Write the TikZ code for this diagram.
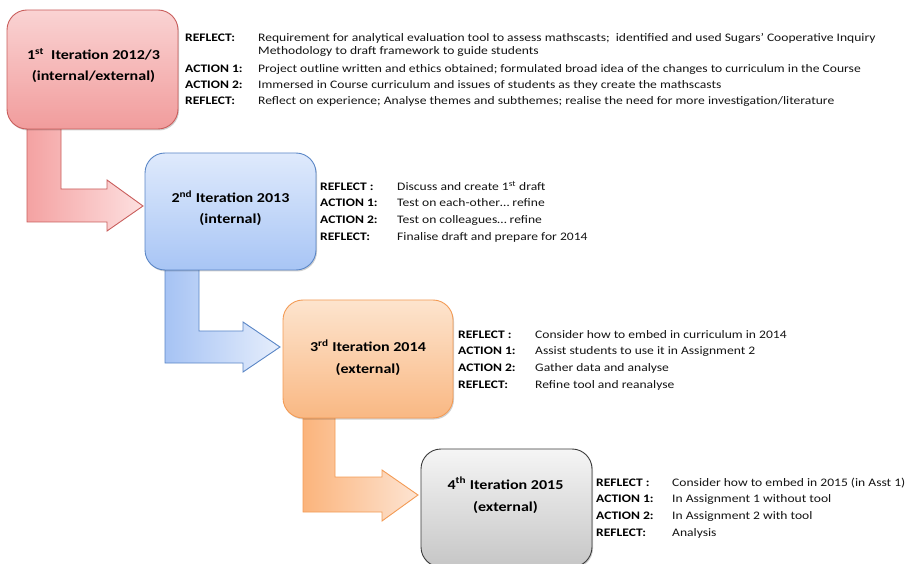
\documentclass[tikz,border=0pt]{standalone}
\usepackage{fontspec}
\setmainfont{Carlito}[FakeStretch=1.18]
\usetikzlibrary{shadows}
\definecolor{rtop}{HTML}{FAD3D3}
\definecolor{rbot}{HTML}{F19C9C}
\definecolor{rbrd}{HTML}{C95E5C}
\definecolor{rarL}{HTML}{F4A2A2}
\definecolor{rarR}{HTML}{FDE0E0}
\definecolor{btop}{HTML}{DFEAFC}
\definecolor{bbot}{HTML}{A8C5F5}
\definecolor{bbrd}{HTML}{5A86C6}
\definecolor{barL}{HTML}{A6C3F4}
\definecolor{barR}{HTML}{E6EEFC}
\definecolor{otop}{HTML}{FDE4CE}
\definecolor{obot}{HTML}{F9B883}
\definecolor{obrd}{HTML}{F39B55}
\definecolor{oarL}{HTML}{FBB47C}
\definecolor{oarR}{HTML}{FDE4D2}
\definecolor{gtop}{HTML}{F5F5F5}
\definecolor{gbot}{HTML}{C6C6C6}
\definecolor{gbrd}{HTML}{3A3A3A}
\definecolor{txt}{HTML}{141414}
\tikzset{
  itbox/.style={rounded corners=20pt, minimum width=171pt, minimum height=118pt,
    line width=0.9pt, inner sep=0pt,
    drop shadow={shadow xshift=1pt, shadow yshift=-1.5pt, fill=black, opacity=0.18}},
  blockarrow/.style={line width=0.9pt, line join=miter},
  lab/.style={anchor=base west, inner sep=0pt, font=\fontsize{11.5}{13}\selectfont\bfseries},
  desc/.style={anchor=base west, inner sep=0pt, font=\fontsize{11.5}{13}\selectfont, text=txt},
  ttl/.style={anchor=base, inner sep=0pt, font=\fontsize{13.6}{16}\selectfont\bfseries}
}
\begin{document}
\begin{tikzpicture}[x=1pt, y=-1pt]
\useasboundingbox (0,0) rectangle (911,564);
\begin{scope}
\clip (0,0) rectangle (911,564);
% block arrows
\draw[blockarrow, draw=rbrd, left color=rarL, right color=rarR]
  (27,125) -- (61,125) -- (61,189) -- (107,189) -- (107,180) -- (143,206)
  -- (107,231) -- (107,222) -- (27,222) -- cycle;
\draw[blockarrow, draw=bbrd, left color=barL, right color=barR]
  (165,266) -- (199,266) -- (199,331) -- (243,331) -- (243,322) -- (280,347)
  -- (243,372) -- (243,363) -- (165,363) -- cycle;
\draw[blockarrow, draw=obrd, left color=oarL, right color=oarR]
  (303,414) -- (335,414) -- (335,477) -- (382,477) -- (382,470) -- (418,495)
  -- (382,521) -- (382,512) -- (303,512) -- cycle;
% boxes
\node[itbox, draw=rbrd, top color=rtop, bottom color=rbot, minimum height=119pt] (b1) at (92.5,69.5) {};
\node[itbox, draw=bbrd, top color=btop, bottom color=bbot, minimum height=117pt] (b2) at (230.5,211.5) {};
\node[itbox, draw=obrd, top color=otop, bottom color=obot, minimum width=170pt] (b3) at (368,359) {};
\node[itbox, draw=gbrd, top color=gtop, bottom color=gbot] (b4) at (506.5,508) {};
\end{scope}
% titles
\node[ttl] (t1a) at (93.5,60) {1\textsuperscript{st}\ \ Iteration 2012/3};
\node[ttl] (t1b) at (93.5,81) {(internal/external)};
\node[ttl] (t2a) at (230.5,203) {2\textsuperscript{nd} Iteration 2013};
\node[ttl] (t2b) at (230.5,224) {(internal)};
\node[ttl] (t3a) at (368,352) {3\textsuperscript{rd} Iteration 2014};
\node[ttl] (t3b) at (368,373) {(external)};
\node[ttl] (t4a) at (505.5,489) {4\textsuperscript{th} Iteration 2015};
\node[ttl] (t4b) at (505.5,511) {(external)};
% block 1 text
\node[lab] (l1a) at (185,41.5) {REFLECT:};
\node[desc] (d1a) at (258,41.5) {Requirement for analytical evaluation tool to assess mathscasts;\ \ identified and used Sugars’ Cooperative Inquiry};
\node[desc] (d1b) at (258,55) {Methodology to draft framework to guide students};
\node[lab] (l1c) at (185,72.5) {ACTION 1:};
\node[desc] (d1c) at (258,72.5) {Project outline written and ethics obtained; formulated broad idea of the changes to curriculum in the Course};
\node[lab] (l1d) at (185,88.5) {ACTION 2:};
\node[desc] (d1d) at (258,88.5) {Immersed in Course curriculum and issues of students as they create the mathscasts};
\node[lab] (l1e) at (185,104.5) {REFLECT:};
\node[desc] (d1e) at (258,104.5) {Reflect on experience; Analyse themes and subthemes; realise the need for more investigation/literature};
% block 2 text
\node[lab] (l2a) at (320,190.5) {REFLECT :};
\node[desc] (d2a) at (397,190.5) {Discuss and create 1\textsuperscript{st} draft};
\node[lab] (l2b) at (320,207) {ACTION 1:};
\node[desc] (d2b) at (397,207) {Test on each-other… refine};
\node[lab] (l2c) at (320,223.5) {ACTION 2:};
\node[desc] (d2c) at (397,223.5) {Test on colleagues… refine};
\node[lab] (l2d) at (320,240.5) {REFLECT:};
\node[desc] (d2d) at (397,240.5) {Finalise draft and prepare for 2014};
% block 3 text
\node[lab] (l3a) at (458,338) {REFLECT :};
\node[desc] (d3a) at (535,338) {Consider how to embed in curriculum in 2014};
\node[lab] (l3b) at (458,354.5) {ACTION 1:};
\node[desc] (d3b) at (535,354.5) {Assist students to use it in Assignment 2};
\node[lab] (l3c) at (458,371) {ACTION 2:};
\node[desc] (d3c) at (535,371) {Gather data and analyse};
\node[lab] (l3d) at (458,388) {REFLECT:};
\node[desc] (d3d) at (535,388) {Refine tool and reanalyse};
% block 4 text
\node[lab] (l4a) at (596,486) {REFLECT :};
\node[desc] (d4a) at (672,486) {Consider how to embed in 2015 (in Asst 1)};
\node[lab] (l4b) at (596,502.5) {ACTION 1:};
\node[desc] (d4b) at (672,502.5) {In Assignment 1 without tool};
\node[lab] (l4c) at (596,519) {ACTION 2:};
\node[desc] (d4c) at (672,519) {In Assignment 2 with tool};
\node[lab] (l4d) at (596,536) {REFLECT:};
\node[desc] (d4d) at (672,536) {Analysis};
\end{tikzpicture}
\end{document}
